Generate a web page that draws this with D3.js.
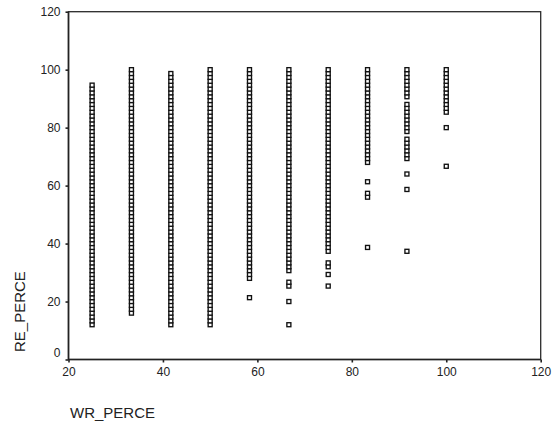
<!DOCTYPE html>
<html>
<head>
<meta charset="utf-8">
<script src="https://cdn.jsdelivr.net/npm/d3@7"></script>
<style>
  html, body { margin: 0; padding: 0; background: #fff; }
  svg { display: block; font-family: "Liberation Sans", Arial, sans-serif; }
</style>
</head>
<body>
<div id="container"></div>
<script>
// WR_PERCE column values (x)
const wrPerce = [25, 33.33, 41.67, 50, 58.33, 66.67, 75, 83.33, 91.67, 100];

// RE raw scores (out of 75), bottom to top
const reItems = 75;
const reCol25 = [9,10,11,12,13,14,15,16,17,18,19,20,21,22,23,24,25,26,27,28,29,30,31,32,33,34,35,36,37,38,39,40,41,42,43,44,45,46,47,48,49,50,51,52,53,54,55,56,57,58,59,60,61,62,63,64,65,66,67,68,69,70,71];
const reCol33 = [12,13,14,15,16,17,18,19,20,21,22,23,24,25,26,27,28,29,30,31,32,33,34,35,36,37,38,39,40,41,42,43,44,45,46,47,48,49,50,51,52,53,54,55,56,57,58,59,60,61,62,63,64,65,66,67,68,69,70,71,72,73,74,75];
const reCol42 = [9,10,11,12,13,14,15,16,17,18,19,20,21,22,23,24,25,26,27,28,29,30,31,32,33,34,35,36,37,38,39,40,41,42,43,44,45,46,47,48,49,50,51,52,53,54,55,56,57,58,59,60,61,62,63,64,65,66,67,68,69,70,71,72,73,74];
const reCol50 = [9,10,11,12,13,14,15,16,17,18,19,20,21,22,23,24,25,26,27,28,29,30,31,32,33,34,35,36,37,38,39,40,41,42,43,44,45,46,47,48,49,50,51,52,53,54,55,56,57,58,59,60,61,62,63,64,65,66,67,68,69,70,71,72,73,74,75];
const reCol58 = [16,21,22,23,24,25,26,27,28,29,30,31,32,33,34,35,36,37,38,39,40,41,42,43,44,45,46,47,48,49,50,51,52,53,54,55,56,57,58,59,60,61,62,63,64,65,66,67,68,69,70,71,72,73,74,75];
const reCol67 = [9,15,19,20,23,24,25,26,27,28,29,30,31,32,33,34,35,36,37,38,39,40,41,42,43,44,45,46,47,48,49,50,51,52,53,54,55,56,57,58,59,60,61,62,63,64,65,66,67,68,69,70,71,72,73,74,75];
const reCol75 = [19,22,24,25,28,29,30,31,32,33,34,35,36,37,38,39,40,41,42,43,44,45,46,47,48,49,50,51,52,53,54,55,56,57,58,59,60,61,62,63,64,65,66,67,68,69,70,71,72,73,74,75];
const reCol83 = [29,42,43,46,51,52,53,54,55,56,57,58,59,60,61,62,63,64,65,66,67,68,69,70,71,72,73,74,75];
const reCol92 = [28,44,48,52,53,54,55,56,57,59,60,61,62,63,64,65,66,68,69,70,71,72,73,74,75];
const reCol100 = [50,60,64,65,66,67,68,69,70,71,72,73,74,75];
const reColumns = [reCol25, reCol33, reCol42, reCol50, reCol58, reCol67, reCol75, reCol83, reCol92, reCol100];

const xTicks = [20, 40, 60, 80, 100, 120];
const yTicks = [0, 20, 40, 60, 80, 100, 120];

const width = 553;
const height = 426;

const data = [];
reColumns.forEach((col, i) => {
  col.forEach(s => data.push({ WR_PERCE: wrPerce[i], RE_PERCE: s / reItems * 100 }));
});

const margin = { top: 11.7, right: 12.3, bottom: 66.5, left: 68.5 };
const innerWidth = width - margin.left - margin.right;
const innerHeight = height - margin.top - margin.bottom;

const svg = d3.select("#container")
  .append("svg")
  .attr("width", width)
  .attr("height", height);

const scaleX = d3.scaleLinear().domain([20, 120]).range([0, innerWidth]);
const scaleY = d3.scaleLinear().domain([0, 120]).range([innerHeight, 0]);

const g = svg.append("g")
  .attr("transform", `translate(${margin.left}, ${margin.top})`);

// axes
const groupAxisX = g.append("g")
  .attr("transform", `translate(0, ${innerHeight})`)
  .call(d3.axisBottom(scaleX).tickValues(xTicks).tickSize(3).tickPadding(5));
const groupAxisY = g.append("g")
  .call(d3.axisLeft(scaleY).tickValues(yTicks).tickSize(3).tickPadding(5));

[groupAxisX, groupAxisY].forEach(a => {
  a.select(".domain").remove();
  a.selectAll(".tick line").attr("stroke", "#222").attr("stroke-width", 1.6);
  a.selectAll(".tick text")
    .attr("fill", "#222")
    .style("font-family", "'Liberation Sans', Arial, sans-serif")
    .style("font-size", "12px");
});
// the 0 label sits a little above the corner
groupAxisY.selectAll(".tick text").filter(d => d === 0).attr("dy", "-0.28em");

// frame
g.append("rect")
  .attr("x", 0).attr("y", 0)
  .attr("width", innerWidth).attr("height", innerHeight)
  .attr("fill", "none")
  .attr("stroke", "#2a2a2a")
  .attr("stroke-width", 1.3);
g.append("line")
  .attr("x1", 0).attr("x2", 0).attr("y1", 0).attr("y2", innerHeight)
  .attr("stroke", "#222").attr("stroke-width", 1.6);
g.append("line")
  .attr("x1", 0).attr("x2", innerWidth).attr("y1", innerHeight).attr("y2", innerHeight)
  .attr("stroke", "#222").attr("stroke-width", 1.6);

// points
const size = 4;
g.append("g")
  .selectAll("rect")
  .data(data)
  .join("rect")
  .attr("x", d => scaleX(d.WR_PERCE) - size / 2)
  .attr("y", d => scaleY(d.RE_PERCE) - size / 2)
  .attr("width", size)
  .attr("height", size)
  .attr("fill", "#fff")
  .attr("stroke", "#111")
  .attr("stroke-width", 1.35);

// titles
svg.append("text")
  .text("RE_PERCE")
  .attr("transform", `translate(25, 352) rotate(-90)`)
  .attr("text-anchor", "start")
  .attr("fill", "#222")
  .style("font-size", "15px");
svg.append("text")
  .text("WR_PERCE")
  .attr("x", 70)
  .attr("y", 418)
  .attr("fill", "#222")
  .style("font-size", "15px");
</script>
</body>
</html>
